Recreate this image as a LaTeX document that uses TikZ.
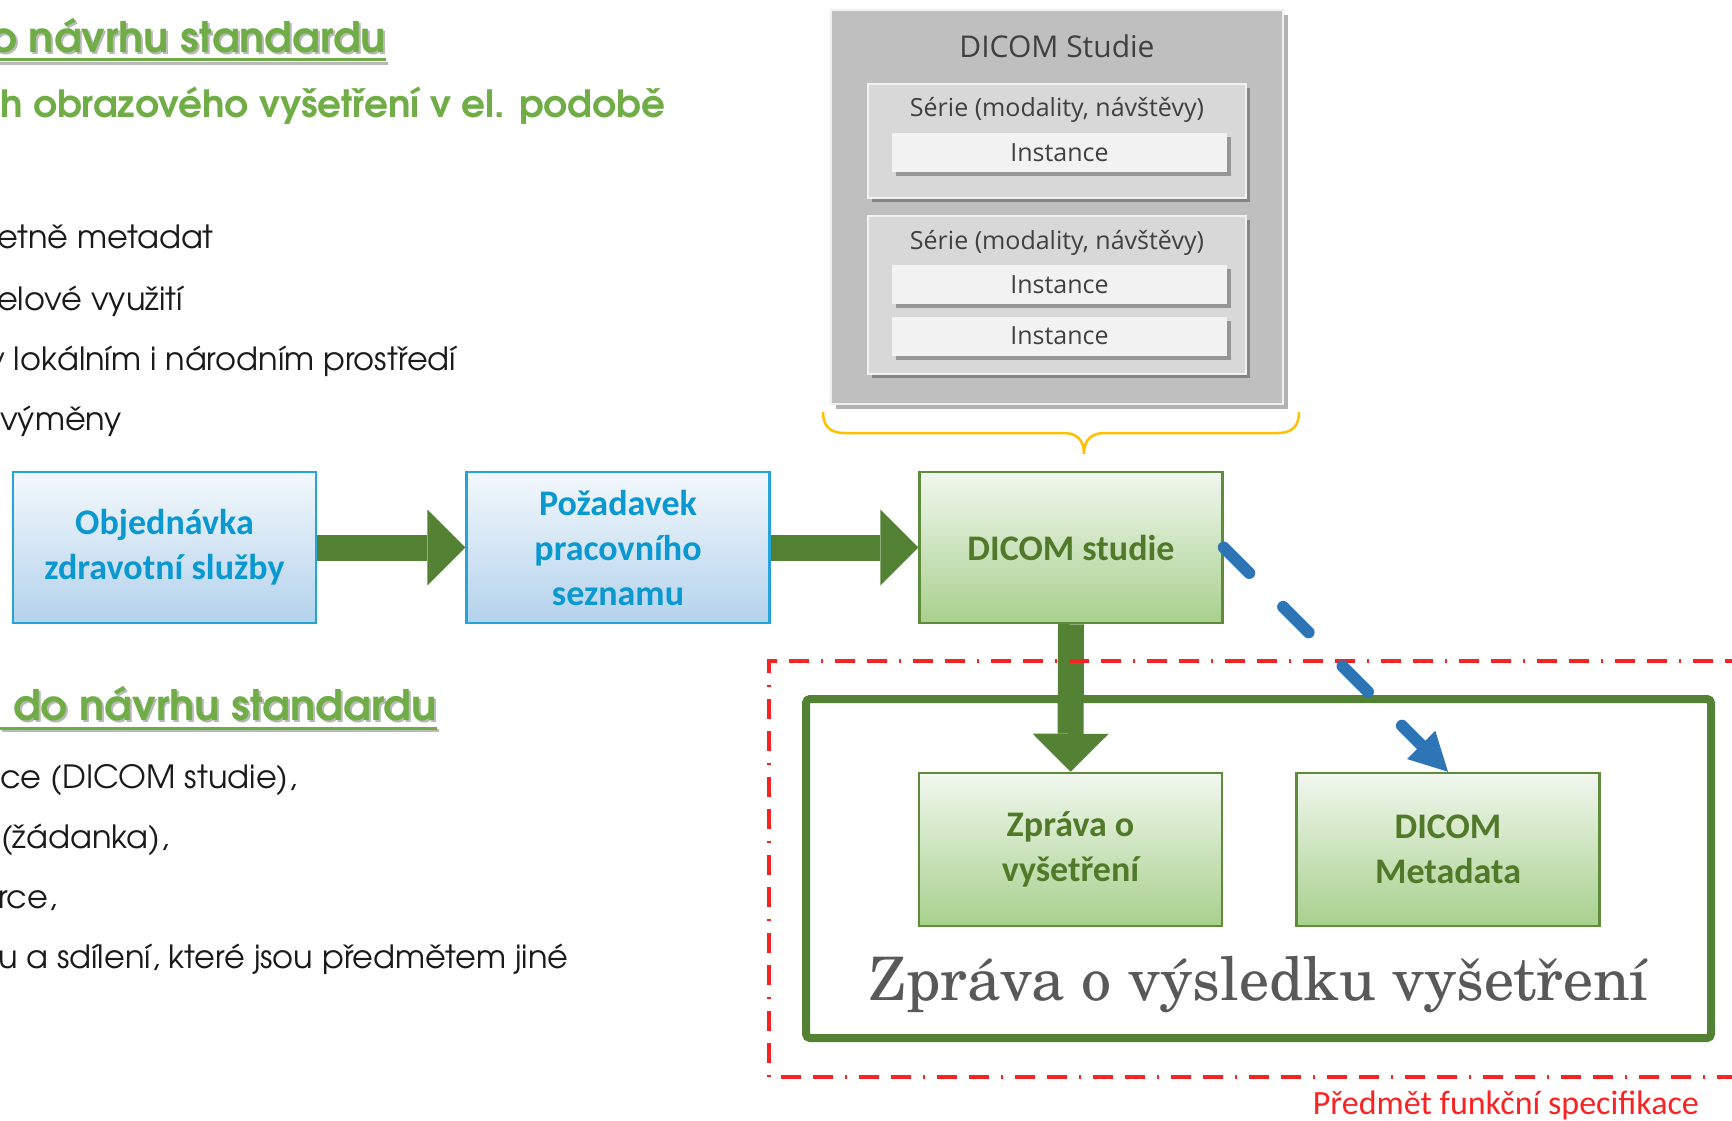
\documentclass[tikz,border=0pt]{standalone}
\usepackage{fontspec}
\usetikzlibrary{arrows.meta,shadows,calc}
\setmainfont{Carlito}
\newfontfamily\calib{Carlito}
\newfontfamily\segoe{Open Sans}
\newfontfamily\gothic{texgyreadventor}[Extension=.otf,UprightFont=*-regular,BoldFont=*-bold]
\newfontfamily\schola{texgyreschola}[Extension=.otf,UprightFont=*-regular]
\definecolor{agreen}{RGB}{84,130,53}
\definecolor{hgreen}{RGB}{112,173,71}
\definecolor{bluetxt}{RGB}{10,152,208}
\definecolor{bluebrd}{RGB}{35,165,215}
\definecolor{bluetop}{RGB}{243,248,252}
\definecolor{bluebot}{RGB}{180,210,236}
\definecolor{greentop}{RGB}{241,247,238}
\definecolor{greenbot}{RGB}{168,208,141}
\definecolor{greenbrd}{RGB}{95,140,60}
\definecolor{greentxt}{RGB}{80,122,42}
\definecolor{dashblue}{RGB}{46,117,182}
\definecolor{bracey}{RGB}{255,192,0}
\definecolor{grayA}{RGB}{191,191,191}
\definecolor{grayB}{RGB}{216,216,216}
\definecolor{grayC}{RGB}{242,242,242}
\definecolor{txtgray}{RGB}{64,64,64}
\definecolor{biggray}{RGB}{89,89,89}
\definecolor{redl}{RGB}{250,35,35}
\definecolor{bodytxt}{RGB}{26,26,26}
\tikzset{
  bluebox/.style={draw=bluebrd, line width=2.5pt, top color=bluetop, bottom color=bluebot,
    minimum width=303pt, minimum height=151pt, inner sep=0pt, align=center, text=bluetxt,
    font=\calib\bfseries\fontsize{36}{45}\selectfont},
  greenbox/.style={draw=greenbrd, line width=2.5pt, top color=greentop, bottom color=greenbot,
    minimum width=303pt, minimum height=153pt, inner sep=0pt, align=center, text=greentxt,
    font=\calib\bfseries\fontsize{36}{45}\selectfont},
  blockarrow/.style={draw=agreen, line width=26pt, -{Triangle[length=38pt,width=76pt,line width=0pt]}},
  outerbox/.style={fill=grayA, draw=white!88!gray, line width=2pt, minimum width=452pt, minimum height=394pt,
    drop shadow={shadow xshift=5pt, shadow yshift=-5pt, fill=black, opacity=0.3}},
  seriesbox/.style={fill=grayB, draw=white!90!gray, line width=2pt, minimum width=378pt,
    drop shadow={shadow xshift=4pt, shadow yshift=-4pt, fill=black, opacity=0.3}},
  instbox/.style={fill=grayC, draw=none, minimum width=335pt, minimum height=39pt, inner sep=0pt,
    text=txtgray, font=\segoe\fontsize{25}{25}\selectfont,
    drop shadow={shadow xshift=4pt, shadow yshift=-4pt, fill=black, opacity=0.3}},
  dtext/.style={text=txtgray, inner sep=0pt},
  head/.style={anchor=base west, inner sep=0pt, text=hgreen, font=\gothic\bfseries\fontsize{42}{42}\selectfont},
  headsh/.style={anchor=base west, inner sep=0pt, text=gray!55, font=\gothic\bfseries\fontsize{42}{42}\selectfont},
  subhead/.style={anchor=base west, inner sep=0pt, text=hgreen, font=\gothic\bfseries\fontsize{37.5}{37.5}\selectfont},
  body/.style={anchor=base west, inner sep=0pt, text=bodytxt, font=\gothic\fontsize{32}{32}\selectfont},
}
\begin{document}
\begin{tikzpicture}[x=1pt,y=-1pt]
\fill[white] (0,0) rectangle (1732,1121);
\useasboundingbox (0,0) rectangle (1732,1121);

% ---------- left text column ----------
\node[headsh] (h1s) at (-8,55) {o návrhu standardu};
\draw[gray!55, line width=3pt] ($(h1s.base west)+(0,9)$) -- ($(h1s.base east)+(0,9)$);
\node[head] (h1) at (-10,53) {o návrhu standardu};
\draw[hgreen, line width=3pt] ($(h1.base west)+(0,7)$) -- ($(h1.base east)+(0,7)$);
\node[subhead] (sub) at (0,118) {h obrazového vyšetření v el. podobě};
\node[body] (l1) at (-3,248) {etně metadat};
\node[body] (l2) at (-3,310) {elové využití};
\node[body] (l3) at (-13,370) {v lokálním i národním prostředí};
\node[body] (l4) at (0,430) {výměny};

\node[headsh] (h2s) at (15,722) {do návrhu standardu};
\draw[gray!55, line width=3pt] (2,730) -- ($(h2s.base east)+(0,8)$);
\node[head] (h2) at (13,720) {do návrhu standardu};
\draw[hgreen, line width=3pt] (0,728) -- ($(h2.base east)+(0,8)$);
\node[body] (m1) at (0,788) {ce (DICOM studie),};
\node[body] (m2) at (1,848) {(žádanka),};
\node[body] (m3) at (-2,908) {rce,};
\node[body] (m4) at (-2,968) {u a sdílení, které jsou předmětem jiné};

% ---------- DICOM Studie structure ----------
\node[outerbox] (outer) at (1057,207) {};
\node[dtext, font=\segoe\fontsize{30}{30}\selectfont] (title) at (1057,46) {DICOM Studie};
\node[seriesbox, minimum height=114pt] (s1) at (1057,141) {};
\node[dtext, font=\segoe\fontsize{25}{25}\selectfont] (s1t) at (1057,110) {Série (modality, návštěvy)};
\node[instbox] (i1) at (1059.5,152.5) {Instance};
\node[seriesbox, minimum height=158pt] (s2) at (1057,295) {};
\node[dtext, font=\segoe\fontsize{25}{25}\selectfont] (s2t) at (1057,243) {Série (modality, návštěvy)};
\node[instbox] (i2) at (1059.5,284.5) {Instance};
\node[instbox] (i3) at (1059.5,336) {Instance};

% brace
\draw[bracey, line width=2.5pt]
  (823,412) .. controls (823,426) and (830,433) .. (844,433) -- (1063,433)
  .. controls (1077,433) and (1084,440) .. (1084,454)
  .. controls (1084,440) and (1091,433) .. (1105,433) -- (1278,433)
  .. controls (1292,433) and (1299,426) .. (1299,412);

% ---------- flow ----------
\node[draw=agreen, line width=8pt, rounded corners=4pt, minimum width=905pt, minimum height=339pt] (big) at (1258.5,868.5) {};
\node[bluebox] (b1) at (164.5,547.5) {Objednávka\\zdravotní služby};
\node[bluebox] (b2) at (618,547.5) {Požadavek\\pracovního\\seznamu};
\node[greenbox, minimum height=151pt] (b3) at (1071,547.5) {DICOM studie};
\node[greenbox] (zv) at (1070.5,849.5) {Zpráva o\\vyšetření};
\node[greenbox] (dm) at (1448,849.5) {DICOM\\Metadata};
\node[anchor=base, inner sep=0pt, text=biggray, font=\schola\fontsize{60}{60}\selectfont] (bigtxt) at (1259,1000) {Zpráva o výsledku vyšetření};

\draw[blockarrow] (b1.east) -- (b2.west);
\draw[blockarrow] (b2.east) -- (b3.west);
\draw[blockarrow] (b3.south) -- (zv.north);

% red scope frame
\draw[redl, line width=3.2pt, dash pattern=on 20pt off 12pt on 20pt off 12pt on 2pt off 12pt]
  (1745,661) -- (769,661) -- (769,1077) -- (1745,1077);
\node[anchor=base east, inner sep=0pt, text=redl, font=\calib\fontsize{34}{34}\selectfont] (scope) at (1699,1114) {Předmět funkční specifikace};

\draw[dashblue, line width=12pt, line cap=round, dash pattern=on 36pt off 48pt,
  -{Triangle[length=38pt,width=40pt,line width=0pt]}] (b3.east) -- (dm.north);
\end{tikzpicture}
\end{document}
